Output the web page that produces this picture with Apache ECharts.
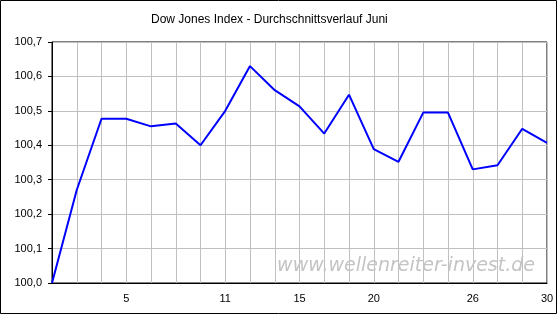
<!DOCTYPE html>
<html>
<head>
<meta charset="utf-8">
<script src="https://cdn.jsdelivr.net/npm/echarts@6/dist/echarts.min.js"></script>
<style>
  html, body { margin: 0; padding: 0; background: #fff; }
  #chart { width: 559px; height: 315px; }
</style>
</head>
<body>
<div id="chart"></div>
<script>
// Handelstage im Juni (nur ein Teil wird beschriftet)
const days = ['1', '2', '4', '5', '6', '7', '8', '11', '12', '13', '15', '18', '19', '20', '21', '22', '25', '26', '27', '29', '30']
const shownDays = ['5', '11', '15', '20', '26', '30']
const avgValues = [100.0, 100.27, 100.477, 100.477, 100.455, 100.463, 100.40, 100.50, 100.63, 100.56,
  100.513, 100.434, 100.547, 100.389, 100.352, 100.495, 100.495, 100.33, 100.342, 100.448, 100.407]

const myChart = echarts.init(document.getElementById('chart'))

const option = {
  animation: false,
  backgroundColor: '#fff',
  title: {
    text: 'Dow Jones Index - Durchschnittsverlauf Juni',
    left: 146,
    top: 9,
    textStyle: { color: '#000', fontSize: 12, fontWeight: 'normal', fontFamily: 'Liberation Sans' }
  },
  grid: {
    left: 52, right: 12, top: 42, bottom: 32,
    show: true, borderColor: '#000', borderWidth: 1,
    outerBoundsMode: 'none'
  },
  graphic: [
    {
      type: 'rect',
      shape: { x: 0.5, y: 0.5, width: 556, height: 313 },
      style: { fill: null, stroke: '#000', lineWidth: 1 },
      z: 10
    },
    {
      type: 'text',
      right: 24,
      top: 257,
      style: {
        text: 'www.wellenreiter-invest.de',
        fill: '#c4c4c4',
        font: 'italic 19px "DejaVu Sans"'
      },
      z: 1
    }
  ],
  xAxis: {
    type: 'category',
    data: days,
    boundaryGap: false,
    axisLine: { lineStyle: { color: '#000', width: 1 } },
    axisTick: { show: false },
    axisLabel: {
      interval: (i, v) => shownDays.indexOf(v) >= 0,
      color: '#000', fontSize: 11, fontFamily: 'Liberation Sans', margin: 10
    },
    splitLine: { show: true, interval: 0, lineStyle: { color: '#c0c0c0', width: 1 } }
  },
  yAxis: {
    type: 'value',
    min: 100,
    max: 100.7,
    interval: 0.1,
    axisLine: { show: true, lineStyle: { color: '#000', width: 1 } },
    axisTick: { show: true, length: 4, lineStyle: { color: '#000' } },
    axisLabel: {
      formatter: v => v.toFixed(1).replace('.', ','),
      color: '#000', fontSize: 11, fontFamily: 'Liberation Sans', margin: 10
    },
    splitLine: { lineStyle: { color: '#c0c0c0', width: 1 } }
  },
  series: [
    {
      type: 'line',
      data: avgValues,
      symbol: 'none',
      lineStyle: { color: '#0000ff', width: 2 },
      z: 5
    }
  ]
}

myChart.setOption(option, true)
</script>
</body>
</html>
